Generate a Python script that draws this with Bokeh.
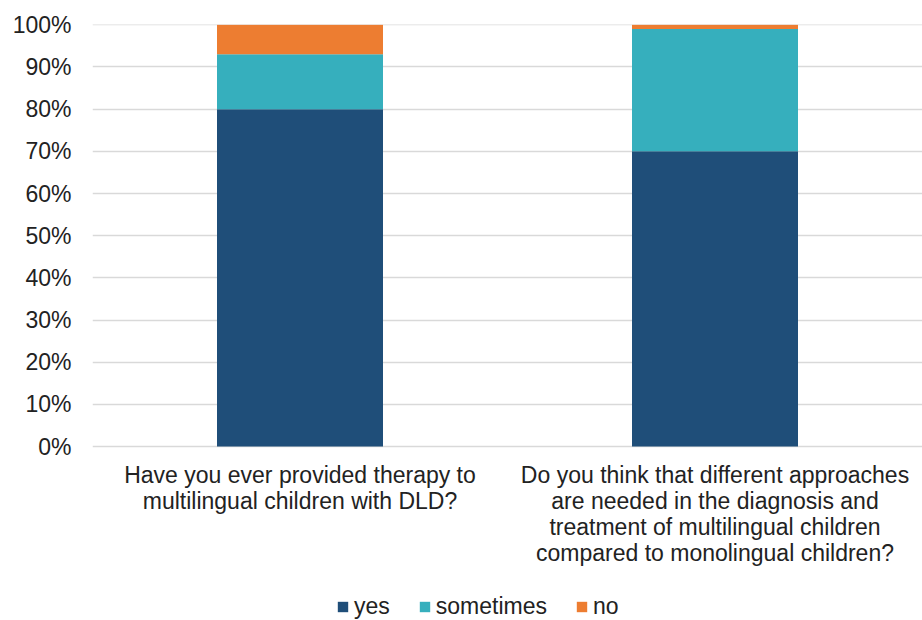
from bokeh.plotting import figure
from bokeh.models import (FactorRange, Range1d, ColumnDataSource, Legend, LegendItem,
                          NumeralTickFormatter, FixedTicker)
from bokeh.core.properties import value
from bokeh.embed import file_html
from bokeh.resources import INLINE

categories = [
    "Have you ever provided therapy to\nmultilingual children with DLD?",
    "Do you think that different approaches\nare needed in the diagnosis and\ntreatment of multilingual children\ncompared to monolingual children?",
]
series = ["yes", "sometimes", "no"]
yes = [0.80, 0.70]
sometimes = [0.13, 0.29]
no = [0.07, 0.01]
colors = ["#1F4E79", "#36AFBD", "#ED7D31"]
y_ticks = [0.0, 0.1, 0.2, 0.3, 0.4, 0.5, 0.6, 0.7, 0.8, 0.9, 1.0]

source = ColumnDataSource(data=dict(cat=categories, yes=yes, sometimes=sometimes, no=no,
                                    base=[0.0] * len(categories)))

FONT = "Liberation Sans"
TXT = "#222222"

# the plotting frame runs from the top margin to the bottom of the page;
# the part below 0 holds the category labels and the legend
p = figure(width=922, height=620, x_range=FactorRange(factors=categories),
           y_range=Range1d(-174 / 422, 1 + 0.3 / 422), output_backend="svg", toolbar_location=None,
           min_border_left=92, min_border_right=0, min_border_top=24, min_border_bottom=0)
p.outline_line_color = None
p.background_fill_color = "white"
p.border_fill_color = "white"

renderers = p.vbar_stack(series, x="cat", width=0.4, source=source, color=colors, line_color=None)

p.text(x="cat", y="base", text="cat", source=source, y_offset=15,
       text_align="center", text_baseline="top", text_line_height=1.0,
       text_font=value(FONT), text_font_size=value("23px"), text_color=TXT)

p.xgrid.grid_line_color = None
p.ygrid.grid_line_color = "#D9D9D9"
p.ygrid.grid_line_width = 1.3
p.ygrid.ticker = FixedTicker(ticks=y_ticks)

p.yaxis.ticker = FixedTicker(ticks=y_ticks)
p.yaxis.formatter = NumeralTickFormatter(format="0%")
p.yaxis.axis_line_color = None
p.yaxis.major_tick_line_color = None
p.yaxis.minor_tick_line_color = None
p.yaxis.major_label_standoff = 15
p.yaxis.major_label_text_font = FONT
p.yaxis.major_label_text_font_size = "23px"
p.yaxis.major_label_text_color = TXT

p.xaxis.visible = False

legend = Legend(items=[LegendItem(label=s, renderers=[r]) for s, r in zip(series, renderers)],
                orientation="horizontal", location=(244, 0))
legend.glyph_width = 13
legend.glyph_height = 13
legend.label_standoff = 5
legend.spacing = 28
legend.label_text_font = FONT
legend.label_text_font_size = "23px"
legend.label_text_color = TXT
legend.border_line_color = None
legend.background_fill_alpha = 0
legend.margin = 0
legend.padding = 0
p.add_layout(legend, "center")

open("out.html", "w").write(file_html(p, INLINE))
